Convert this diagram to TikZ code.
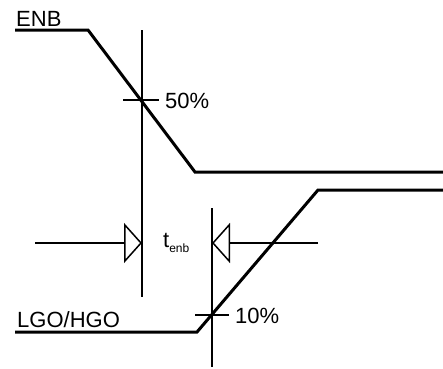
\documentclass[tikz,border=0pt]{standalone}
\usepackage{fontspec}
\setmainfont{Liberation Sans}
\usetikzlibrary{arrows.meta}
\begin{document}
\begin{tikzpicture}[x=1pt,y=-1pt,
  wave/.style={line width=3pt, line join=miter},
  guide/.style={line width=1.5pt},
  tick/.style={line width=1.5pt},
  meas/.style={line width=1.3pt, -{Triangle[open,length=18pt,width=40pt,line width=1.5pt]}},
  lbl/.style={inner sep=0pt, anchor=base west, font=\fontsize{22}{26}\selectfont}]
\useasboundingbox (0,0) rectangle (443,368);
% ENB waveform
\coordinate (e0) at (15,30);
\coordinate (e1) at (88,30);
\coordinate (e2) at (195,172);
\coordinate (e3) at (443,172);
\draw[wave] (e0) -- (e1) -- (e2) -- (e3);
% LGO/HGO waveform
\coordinate (g0) at (15,332);
\coordinate (g1) at (197,332);
\coordinate (g2) at (318,190);
\coordinate (g3) at (443,190);
\draw[wave] (g0) -- (g1) -- (g2) -- (g3);
% vertical guides
\coordinate (v1t) at (142,30);
\coordinate (v1b) at (142,297);
\draw[guide] (v1t) -- (v1b);
\coordinate (v2t) at (212,208);
\coordinate (v2b) at (212,367);
\draw[guide] (v2t) -- (v2b);
% ticks
\coordinate (t1a) at (123,100);
\coordinate (t1b) at (159,100);
\draw[tick] (t1a) -- (t1b);
\coordinate (t2a) at (195,315);
\coordinate (t2b) at (229,315);
\draw[tick] (t2a) -- (t2b);
% measurement arrows
\coordinate (a1s) at (35,243);
\coordinate (a1e) at (142,243);
\draw[meas] (a1s) -- (a1e);
\coordinate (a2s) at (318,243);
\coordinate (a2e) at (212,243);
\draw[meas] (a2s) -- (a2e);
% labels
\node[lbl] (enb) at (16,26) {ENB};
\node[lbl] (p50) at (165,108) {50\%};
\node[lbl] (p10) at (235,323) {10\%};
\node[lbl] (lgo) at (17,327) {LGO/HGO};
\node[lbl] (tenb) at (163,247) {t\raisebox{-5pt}{\fontsize{12}{14}\selectfont enb}};
\end{tikzpicture}
\end{document}
